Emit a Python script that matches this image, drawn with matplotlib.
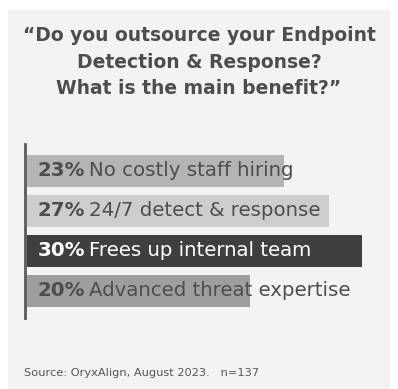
import matplotlib
matplotlib.use("Agg")

import matplotlib.pyplot as plt
from matplotlib.patches import Rectangle
from matplotlib.transforms import offset_copy

# data
percents = [23, 27, 30, 20]
labels = [
    "No costly staff hiring",
    "24/7 detect & response",
    "Frees up internal team",
    "Advanced threat expertise",
]
bar_colors = ["#b4b4b4", "#cdcdcd", "#3f3f3f", "#9e9e9e"]
text_colors = ["#4d4d4d", "#4d4d4d", "#ffffff", "#4d4d4d"]

title = "\u201cDo you outsource your Endpoint\nDetection & Response?\nWhat is the main benefit?\u201d"
source = "Source: OryxAlign, August 2023.   n=137"

W, H = 398, 389
FONT = "DejaVu Sans"

fig = plt.figure(figsize=(W / 100, H / 100), dpi=100)
fig.patch.set_facecolor("white")

# grey panel
fig.patches.append(Rectangle((8 / W, 0), 382 / W, 379 / H, transform=fig.transFigure,
                             facecolor="#f3f3f3", edgecolor="none", zorder=-5))

fig.text(199 / W, 1 - 62 / H, title, ha="center", va="center", fontsize=13.5,
         fontweight="bold", color="#4d4d4d", family=FONT, linespacing=1.5)

# bar area: top at y=144px, bottom at 318px, bars start at x=27px
ax = fig.add_axes([24.5 / W, 1 - 318 / H, 369 / W, 174 / H])
ax.patch.set_alpha(0)
ax.set_xlim(-0.22, 32.8)
ax.set_ylim(3.675, -0.675)

ax.barh(range(len(percents)), percents, height=0.8, color=bar_colors, left=0)

for s in ["top", "right", "bottom"]:
    ax.spines[s].set_visible(False)
ax.spines["left"].set_color("#5a5a5a")
ax.spines["left"].set_linewidth(2.0)
ax.set_xticks([])
ax.set_yticks([])

fig.canvas.draw()
renderer = fig.canvas.get_renderer()

for i, (p, lab) in enumerate(zip(percents, labels)):
    t1 = ax.text(0, i, f"{p}%", ha="left", va="center", fontsize=14.2,
                 fontweight="bold", color=text_colors[i], family=FONT,
                 transform=offset_copy(ax.transData, fig=fig, x=11 * 0.72, units="points"))
    bb = t1.get_window_extent(renderer)
    x_disp = bb.x1 + 4
    ax.text(x_disp, ax.transData.transform((0, i))[1], lab, ha="left", va="center",
            fontsize=14.2, color=text_colors[i], family=FONT,
            transform=None)

fig.text(24 / W, 1 - 373 / H, source, ha="left", va="center", fontsize=8.2,
         color="#555555", family=FONT)

fig.savefig("out.png", dpi=100)
